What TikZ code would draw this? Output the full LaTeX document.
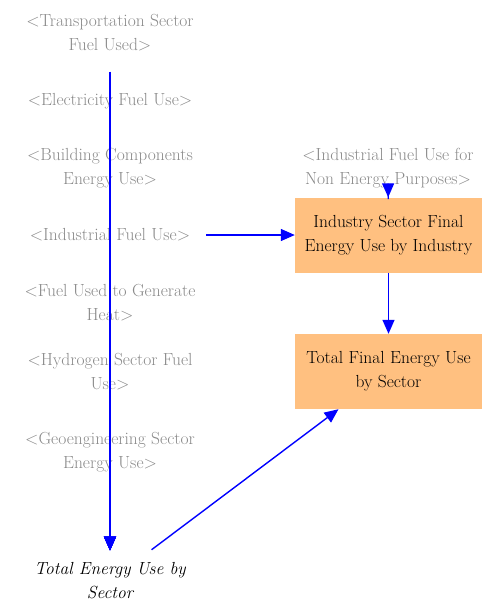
\documentclass[tikz,border=0pt]{standalone}
\usetikzlibrary{arrows.meta}
\definecolor{boxfill}{HTML}{FFC080}
\definecolor{ghosttext}{HTML}{8A8A8A}
\definecolor{arrowblue}{HTML}{0000FF}
\begin{document}
\begin{tikzpicture}[x=1pt,y=-1pt,
  every node/.style={font=\rmfamily\fontsize{17.5}{24}\selectfont, align=center},
  ghost/.style={text=ghosttext, inner sep=2pt},
  varbox/.style={fill=boxfill, minimum width=187pt, minimum height=75pt, inner sep=2pt},
  plain/.style={text=black, inner sep=2pt, font=\rmfamily\fontsize{17.5}{24}\selectfont\itshape},
  arr/.style={draw=arrowblue, line width=1.4pt, -{Triangle[length=14pt,width=12pt]}}
]
\useasboundingbox (0,0) rectangle (495,606);
\node[ghost] (t1) at (110,33) {<Transportation Sector\\Fuel Used>};
\node[ghost] (t2) at (110,101) {<Electricity Fuel Use>};
\node[ghost] (t3) at (110,168) {<Building Components\\Energy Use>};
\node[ghost] (t4) at (110,235) {<Industrial Fuel Use>};
\node[ghost] (t5) at (110,303) {<Fuel Used to Generate\\Heat>};
\node[ghost] (t6) at (110,372) {<Hydrogen Sector Fuel\\Use>};
\node[ghost] (t7) at (110,452) {<Geoengineering Sector\\Energy Use>};
\node[plain] (tot) at (110,581) {Total Energy Use by\\Sector};
\node[ghost] (ne) at (388,168) {<Industrial Fuel Use for\\Non Energy Purposes>};
\node[varbox] (b1) at (388.5,235) {Industry Sector Final\\Energy Use by Industry};
\node[varbox] (b2) at (388.5,371.5) {Total Final Energy Use\\by Sector};

\draw[arr, shorten <=18pt, shorten >=10pt] (t1) -- (tot);
\foreach \n in {t2,t3,t4,t5,t6,t7} \draw[arr, shorten >=10pt] (\n) -- (tot);
\draw[arr, shorten <=14pt] (t4) -- (b1);
\draw[arr, shorten <=-9pt] (ne) -- (b1);
\draw[arr] (b1) -- (b2);
\draw[arr, shorten <=18pt] (tot) -- (b2);
\end{tikzpicture}
\end{document}
